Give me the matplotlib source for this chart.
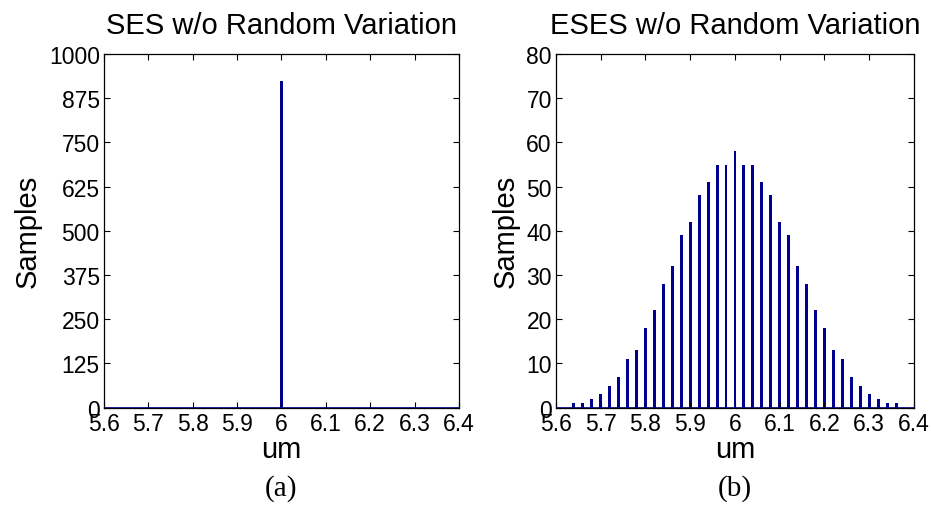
import numpy as np
import matplotlib.pyplot as plt

plt.rcParams['font.family'] = ['Liberation Sans', 'DejaVu Sans']

# SES: every sample lands on the nominal width
ses_centers = [6.0]
ses_counts = [924]

# ESES: histogram bin centres (um) and sample counts
eses_centers = [5.64, 5.66, 5.68, 5.70, 5.72, 5.74, 5.76, 5.78, 5.80, 5.82,
                5.84, 5.86, 5.88, 5.90, 5.92, 5.94, 5.96, 5.98, 6.00, 6.02,
                6.04, 6.06, 6.08, 6.10, 6.12, 6.14, 6.16, 6.18, 6.20, 6.22,
                6.24, 6.26, 6.28, 6.30, 6.32, 6.34, 6.36]
eses_counts = [1, 1, 2, 3, 5, 7, 11, 13, 18, 22, 28, 32, 39, 42, 48, 51, 55, 55,
               58, 55, 55, 51, 48, 42, 39, 32, 28, 22, 18, 13, 11, 7, 5, 3, 2, 1, 1]

x_ticks = [5.6, 5.7, 5.8, 5.9, 6.0, 6.1, 6.2, 6.3, 6.4]
x_ticklabels = ['5.6', '5.7', '5.8', '5.9', '6', '6.1', '6.2', '6.3', '6.4']
ses_yticks = [0, 125, 250, 375, 500, 625, 750, 875, 1000]
eses_yticks = [0, 10, 20, 30, 40, 50, 60, 70, 80]

BAR = '#000090'


def style_axes(ax, title, yticks, tag):
    ax.set_xlim(5.6, 6.4)
    ax.set_ylim(yticks[0], yticks[-1])
    ax.set_xticks(x_ticks)
    ax.set_xticklabels(x_ticklabels)
    ax.set_yticks(yticks)
    ax.tick_params(direction='in', top=True, right=True, length=4, width=0.8,
                   labelsize=16.5, pad=3)
    for s in ax.spines.values():
        s.set_linewidth(0.9)
    ax.set_title(title, fontsize=21, pad=15)
    ax.set_xlabel('um', fontsize=21, labelpad=0)
    ax.set_ylabel('Samples', fontsize=21, labelpad=5)
    ax.text(0.5, -0.225, tag, transform=ax.transAxes, ha='center', va='center',
            fontsize=21, family=['Liberation Serif', 'DejaVu Serif'])


fig = plt.figure(figsize=(9.31, 5.10), dpi=100)
ax1 = fig.add_axes([0.1117, 0.1986, 0.3813, 0.6936])
ax2 = fig.add_axes([0.5972, 0.1986, 0.3845, 0.6936])

ax1.bar(ses_centers, ses_counts, width=0.0065, color=BAR, linewidth=0)
ax1.axhline(0, color=BAR, lw=1.2)
style_axes(ax1, 'SES w/o Random Variation', ses_yticks, '(a)')

ax2.bar(eses_centers, eses_counts, width=0.0065, color=BAR, linewidth=0)
ax2.axhline(0, color=BAR, lw=1.2)
style_axes(ax2, 'ESES w/o Random Variation', eses_yticks, '(b)')

fig.savefig('out.png', dpi=100)
